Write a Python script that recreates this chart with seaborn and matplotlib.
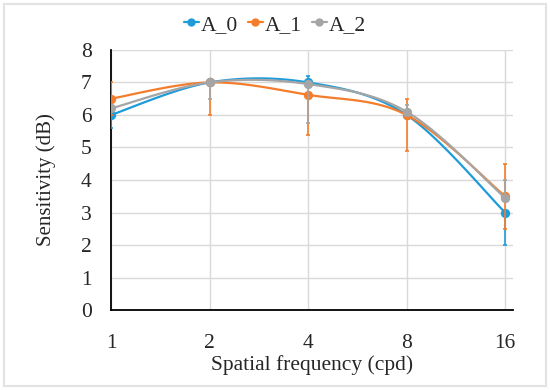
import numpy as np
import pandas as pd
import seaborn as sns
import matplotlib.pyplot as plt
from matplotlib.lines import Line2D
from matplotlib.patches import Rectangle

freq_labels = ['1', '2', '4', '8', '16']
series_names = ['A_0', 'A_1', 'A_2']

a0 = [6.0, 7.0, 7.0, 6.0, 3.0]
a1 = [6.5, 7.0, 6.62, 6.0, 3.5]
a2 = [6.2, 7.0, 6.95, 6.1, 3.45]

a0_lo = [0.4, 0.05, 0.0, 0.1, 1.0]
a0_hi = [0.0, 0.05, 0.2, 0.1, 0.0]
a1_lo = [0.5, 1.0, 1.25, 1.1, 1.0]
a1_hi = [0.5, 0.05, 0.0, 0.5, 1.0]
a2_lo = [0.0, 0.5, 1.2, 0.1, 0.0]
a2_hi = [0.0, 0.0, 0.0, 0.2, 0.55]

colors = ['#1E9CDA', '#F47D2B', '#A5A5A5']


def smooth(xs, ys, n=30):
    # excel-like smoothed line (bezier through points)
    p = np.column_stack([xs, ys]).astype(float)
    ext = np.vstack([p[0], p, p[-1]])
    out = []
    t = np.linspace(0, 1, n)[:, None]
    for i in range(len(p) - 1):
        p0, p3 = ext[i + 1], ext[i + 2]
        c1 = p0 + (ext[i + 2] - ext[i]) / 6
        c2 = p3 - (ext[i + 3] - ext[i + 1]) / 6
        seg = ((1 - t) ** 3) * p0 + 3 * ((1 - t) ** 2) * t * c1 + 3 * (1 - t) * t ** 2 * c2 + t ** 3 * p3
        out.append(seg)
    out = np.vstack(out)
    return out[:, 0], out[:, 1]


def main():
    sns.set_style('white')
    plt.rcParams['font.family'] = ['Liberation Serif', 'DejaVu Serif']

    fig = plt.figure(figsize=(5.5, 3.9), dpi=100)
    ax = fig.add_axes([0.2018, 0.205, 0.7309, 0.667])

    xpos = np.arange(len(freq_labels))
    data = [a0, a1, a2]
    los = [a0_lo, a1_lo, a2_lo]
    his = [a0_hi, a1_hi, a2_hi]

    rows = []
    for name, ys in zip(series_names, data):
        sx, sy = smooth(xpos, ys)
        rows.append(pd.DataFrame({'x': sx, 'y': sy, 'series': name}))
    curve = pd.concat(rows, ignore_index=True)
    points = pd.concat([pd.DataFrame({'x': xpos, 'y': ys, 'series': name})
                        for name, ys in zip(series_names, data)], ignore_index=True)

    for i, name in enumerate(series_names):
        ax.errorbar(xpos, data[i], yerr=[los[i], his[i]], fmt='none', ecolor=colors[i],
                    elinewidth=1.2, capsize=1.5, capthick=1.2, zorder=3 + i)
        sns.lineplot(data=curve[curve.series == name], x='x', y='y', color=colors[i],
                     sort=False, estimator=None, lw=1.6, ax=ax, zorder=3 + i)
        sns.scatterplot(data=points[points.series == name], x='x', y='y', color=colors[i],
                        s=45, linewidth=0, ax=ax, zorder=3 + i)

    ax.set_xlim(0, 4.08)
    ax.set_ylim(0, 8)
    ax.set_xticks(xpos)
    ax.set_xticklabels(freq_labels)
    ax.set_yticks(range(0, 9))
    ax.tick_params(axis='both', labelsize=15.5, length=0)
    ax.tick_params(axis='x', pad=17)
    ax.tick_params(axis='y', pad=14)
    ax.grid(True, color='#D9D9D9', lw=1)
    ax.set_axisbelow(True)
    for s in ['top', 'right']:
        ax.spines[s].set_visible(False)
    for s in ['left', 'bottom']:
        ax.spines[s].set_color('black')
        ax.spines[s].set_linewidth(1.3)
    ax.set_xlabel('Spatial frequency (cpd)', fontsize=15.5, labelpad=2)
    ax.set_ylabel('Sensitivity (dB)', fontsize=15, labelpad=18)

    handles = [Line2D([], [], color=c, lw=1.6, marker='o', markersize=5) for c in colors]
    fig.legend(handles, series_names, loc='center', bbox_to_anchor=(0.5, 0.936), ncol=3,
               frameon=False, fontsize=15.5, handlelength=0.7, handletextpad=0.1,
               columnspacing=0.45)

    fig.patches.append(Rectangle((0.008, 0.01), 0.984, 0.98, transform=fig.transFigure,
                                 fill=False, edgecolor='#E3E3E3', lw=1.5))
    fig.savefig('out.png', dpi=100)


if __name__ == '__main__':
    main()
